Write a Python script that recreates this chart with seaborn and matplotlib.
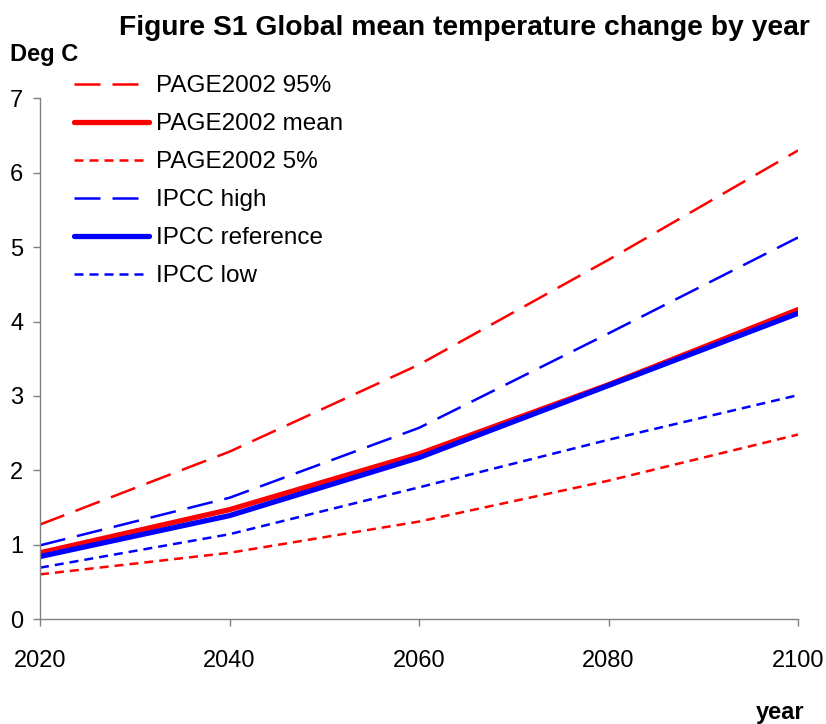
import numpy as np
import pandas as pd
import seaborn as sns
import matplotlib.pyplot as plt

years = [2020, 2040, 2060, 2080, 2100]
page_95 = [1.27, 2.25, 3.42, 4.83, 6.30]
page_mean = [0.89, 1.47, 2.22, 3.15, 4.16]
page_5 = [0.60, 0.89, 1.31, 1.86, 2.48]
ipcc_high = [0.99, 1.63, 2.57, 3.84, 5.13]
ipcc_ref = [0.84, 1.39, 2.17, 3.14, 4.11]
ipcc_low = [0.69, 1.14, 1.77, 2.41, 3.01]

series = {
    'PAGE2002 95%': page_95,
    'PAGE2002 mean': page_mean,
    'PAGE2002 5%': page_5,
    'IPCC high': ipcc_high,
    'IPCC reference': ipcc_ref,
    'IPCC low': ipcc_low,
}
# colour, dash pattern (in units of line width), width
styles = {
    'PAGE2002 95%': ('#ff0000', (0, (10.4, 4.8)), 1.8),
    'PAGE2002 mean': ('#ff0000', '-', 3.8),
    'PAGE2002 5%': ('#ff0000', (0, (3.6, 2.4)), 1.8),
    'IPCC high': ('#0000ff', (0, (10.4, 4.8)), 1.8),
    'IPCC reference': ('#0000ff', '-', 3.8),
    'IPCC low': ('#0000ff', (0, (3.6, 2.4)), 1.8),
}

df = pd.DataFrame({'year': years, **series})
long_df = df.melt(id_vars='year', var_name='series', value_name='temp')

sns.set_theme(style='white')
plt.rcParams['font.family'] = ['Liberation Sans', 'DejaVu Sans']
plt.rcParams['text.color'] = 'black'

fig = plt.figure(figsize=(8.26, 7.24), dpi=100)
ax = fig.add_axes([40 / 826, 1 - 619 / 724, 758 / 826, 520.6 / 724])

for name in series:
    color, ls, lw = styles[name]
    sub = long_df[long_df['series'] == name]
    sns.lineplot(data=sub, x='year', y='temp', ax=ax, color=color,
                 linestyle=ls, linewidth=lw, label=name, legend=False)

ax.set_xlim(2020, 2100)
ax.set_ylim(0, 7)
ax.set_xticks(years)
ax.set_yticks(range(0, 8))
ax.set_xlabel('')
ax.set_ylabel('')
for s in ['top', 'right']:
    ax.spines[s].set_visible(False)
for s in ['left', 'bottom']:
    ax.spines[s].set_color('#808080')
    ax.spines[s].set_linewidth(1.0)
ax.tick_params(axis='both', direction='out', length=5, width=1, color='#808080',
               labelsize=17, labelcolor='black')
ax.tick_params(axis='x', pad=17)
ax.tick_params(axis='y', pad=7)
ax.tick_params(left=True, bottom=True)

handles, labels = ax.get_legend_handles_labels()
fig.legend(handles, labels, loc='upper left', bbox_to_anchor=(74 / 826, 1 - 75 / 724),
           frameon=False, fontsize=17.5, handlelength=3.1, handletextpad=0.28,
           labelspacing=0.66, borderaxespad=0, borderpad=0)

fig.text(464 / 826, 1 - 28 / 724, 'Figure S1 Global mean temperature change by year',
         ha='center', va='center', fontsize=20.3, fontweight='bold', color='black')
fig.text(10 / 826, 1 - 55 / 724, 'Deg C', ha='left', va='center',
         fontsize=17, fontweight='bold', color='black')
fig.text(780 / 826, 1 - 712 / 724, 'year', ha='center', va='center',
         fontsize=17, fontweight='bold', color='black')

fig.savefig('out.png', dpi=100)
